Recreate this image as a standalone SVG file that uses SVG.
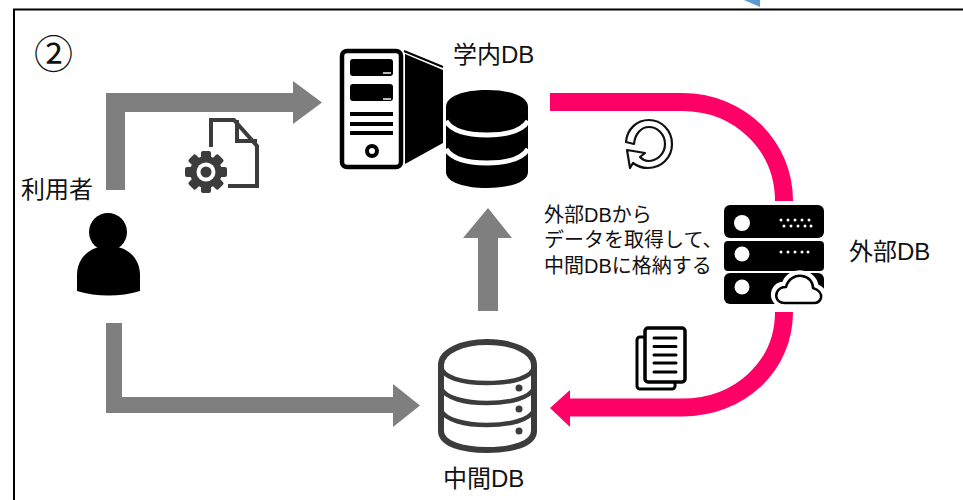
<svg xmlns="http://www.w3.org/2000/svg" width="963" height="500" viewBox="0 0 963 500">
<style>
text{font-family:"Liberation Sans","Noto Sans CJK JP",sans-serif;fill:#111}
.l{font-size:24px}.s{font-size:20px}
.gray{fill:#7f7f7f}.pink{fill:none;stroke:#ff0066;stroke-width:18}.pf{fill:#ff0066}
.k{fill:#000}.w{fill:#fff}
.d{fill:#3c3c3c}
</style>
<rect width="963" height="500" fill="#fff"/>
<polygon points="744,0 760,0 760,7" fill="#5b9bd5"/>
<path d="M14 500V9.500H963" fill="none" stroke="#000" stroke-width="2"/>
<text x="34" y="68" font-size="39">②</text>
<g id="connectors">
<path class="gray" d="M106 190V93H293V81L322 102.500L293 124V112H125V190Z"/>
<path class="gray" d="M106 323H122V397H393V384L420 405.500L393 427V413H106Z"/>
<path class="gray" d="M478 311V238H463L488 208L512 238H498V311Z"/>
<path class="pink" d="M550 102H682C740 102 784 146 784 201"/>
<path class="pink" d="M784 312C784 366 740 407.500 682 407.500H568"/>
<polygon class="pf" points="550,408 570,390 570,427"/>
</g>
<g id="user">
<text class="l" x="21" y="198">利用者</text>
<circle class="k" cx="108" cy="232" r="19"/>
<path class="k" d="M77 291V275C77 258 90 247 103 247H114C127 247 140 258 140 275V291C120 297 97 297 77 291Z"/>
</g>
<g id="config-doc">
<path d="M211 147V120H234L257 146V186H228" fill="none" stroke="#3c3c3c" stroke-width="4"/>
<path d="M237 120V141H257" fill="none" stroke="#3c3c3c" stroke-width="4"/>
<circle cx="206" cy="172" r="16" class="d"/>
<g class="d">
<rect x="201" y="151" width="10" height="42" rx="2"/>
<rect x="201" y="151" width="10" height="42" rx="2" transform="rotate(45 206 172)"/>
<rect x="201" y="151" width="10" height="42" rx="2" transform="rotate(90 206 172)"/>
<rect x="201" y="151" width="10" height="42" rx="2" transform="rotate(135 206 172)"/>
</g>
<circle cx="206" cy="172" r="9.500" class="w"/>
<circle cx="206" cy="172" r="5.500" class="d"/>
</g>
<g id="campus-db">
<text class="l" x="453" y="63">学内DB</text>
<rect x="342" y="51" width="59" height="116" rx="5" fill="#fff" stroke="#000" stroke-width="4.500"/>
<rect class="k" x="350" y="59" width="43" height="17" rx="3"/>
<rect class="k" x="350" y="84" width="43" height="17" rx="3"/>
<rect x="383" y="72" width="8" height="2" fill="#bbb"/>
<rect x="383" y="98" width="8" height="2" fill="#bbb"/>
<rect class="k" x="350" y="112" width="43" height="4"/>
<rect class="k" x="350" y="122" width="43" height="4"/>
<rect class="k" x="350" y="131" width="43" height="4"/>
<circle cx="372" cy="151" r="5" fill="#fff" stroke="#000" stroke-width="4"/>
<polygon class="k" points="405,54 443,70 443,143 405,164"/>
<path d="M404 51L443 67" stroke="#000" stroke-width="2" fill="none"/>
<path class="k" d="M446 107C446 96 464 90 487 90C510 90 528 96 528 107V172C528 182 510 188 487 188C464 188 446 182 446 172Z"/>
<path d="M446 121C452 131 468 135 487 135C506 135 522 131 528 121M446 149C452 159 468 163 487 163C506 163 522 159 528 149" fill="none" stroke="#fff" stroke-width="5"/>
</g>
<g id="refresh">
<path d="M626 142C627 129 637 120 649 120C661 120 672 130 672 144C672 158 661 168 648 168C642 168 637 166 633 163L630 168L627 150L645 153L640 157C643 160 645 161 648 161C657 161 665 154 665 144C665 134 657 127 649 127C641 127 635 134 634 144Z" fill="#fff" stroke="#111" stroke-width="2.200" stroke-linejoin="round"/>
</g>
<text class="s" x="544" y="222">外部DBから</text>
<text class="s" x="544" y="247">データを取得して、</text>
<text class="s" x="544" y="273">中間DBに格納する</text>
<g id="external-db">
<text class="l" x="849" y="260">外部DB</text>
<rect class="k" x="724" y="205" width="100" height="33" rx="6"/>
<rect class="k" x="724" y="241" width="100" height="30" rx="4"/>
<rect class="k" x="724" y="273" width="100" height="31" rx="6"/>
<circle class="w" cx="742" cy="223" r="8"/>
<circle class="w" cx="742" cy="254" r="7.500"/>
<circle class="w" cx="742" cy="287" r="7.500"/>
<g class="w">
<circle cx="781" cy="220" r="1.500"/><circle cx="788" cy="220" r="1.500"/><circle cx="795" cy="220" r="1.500"/><circle cx="802" cy="220" r="1.500"/><circle cx="809" cy="220" r="1.500"/>
<circle cx="784" cy="226" r="1.500"/><circle cx="791" cy="226" r="1.500"/><circle cx="798" cy="226" r="1.500"/><circle cx="805" cy="226" r="1.500"/><circle cx="811" cy="226" r="1.500"/>
<circle cx="781" cy="252" r="1.500"/><circle cx="788" cy="252" r="1.500"/><circle cx="795" cy="252" r="1.500"/><circle cx="802" cy="252" r="1.500"/><circle cx="808" cy="252" r="1.500"/>
</g>
<path d="M785 304C776 304 773 297 775 291C777 286 781 285 785 285C787 277 794 273 802 274C810 275 815 281 815 287C821 289 824 293 823 298C822 302 819 304 815 304Z" fill="#fff" stroke="#fff" stroke-width="7" stroke-linejoin="round"/>
<path d="M785 303C777 303 775 297 777 292C779 288 782 287 786 287C788 279 795 275 802 276C809 277 813 282 813 288C819 290 822 294 821 298C820 301 817 303 814 303Z" fill="#fff" stroke="#000" stroke-width="2.500" stroke-linejoin="round"/>
</g>
<g id="docs">
<rect x="637" y="337" width="38" height="52" rx="3" fill="#fff" stroke="#000" stroke-width="3"/>
<rect x="645" y="328" width="40" height="54" rx="3" fill="#fff" stroke="#000" stroke-width="3.500"/>
<g fill="none" stroke="#000" stroke-width="3" stroke-linecap="round">
<path d="M654 338H676M654 346.500H676M654 355H676M654 363H676M654 372H676"/>
</g>
</g>
<g id="mid-db">
<text class="l" x="443" y="487">中間DB</text>
<path d="M441 365C441 351 463 342 487 342C512 342 534 351 534 365V431C534 444 512 450 487 450C463 450 441 444 441 431Z" fill="#fff" stroke="#3c3c3c" stroke-width="6"/>
<path d="M441 365C441 378 463 383 487 383C512 383 534 378 534 365M441 388C445 398 465 403 487 403C510 403 530 398 534 388M441 410C445 420 465 425 487 425C510 425 530 420 534 410" fill="none" stroke="#3c3c3c" stroke-width="4.500"/>
<circle class="d" cx="519" cy="388" r="3.500"/><circle class="d" cx="519" cy="409" r="3.500"/><circle class="d" cx="519" cy="431" r="3.500"/>
</g>
</svg>
